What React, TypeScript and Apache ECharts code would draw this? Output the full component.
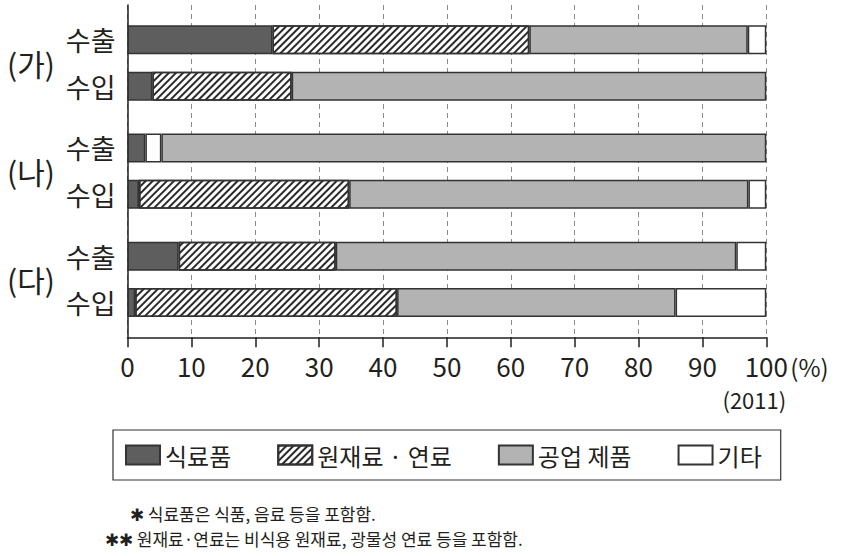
import React, { useEffect, useRef } from 'react';
import * as echarts from 'echarts';

// ---- data (2011, %) ----
const groupLabels = ['(가)', '(나)', '(다)'];
const rowLabels = ['수출', '수입', '수출', '수입', '수출', '수입'];
const seriesNames = ['식료품', '원재료 · 연료', '공업 제품', '기타'];
const foodValues = [22.7, 3.9, 2.8, 1.8, 8.0, 1.2];
const rawFuelValues = [40.2, 21.8, 2.5, 32.9, 24.6, 41.0];
const industrialValues = [34.2, 74.3, 94.7, 62.5, 62.7, 43.6];
const otherValues = [2.9, 0, 0, 2.8, 4.7, 14.2];
const xTicks = [0, 10, 20, 30, 40, 50, 60, 70, 80, 90, 100];
const footnotes = [
  '✱ 식료품은 식품, 음료 등을 포함함.',
  '✱✱ 원재료·연료는 비식용 원재료, 광물성 연료 등을 포함함.',
];

// ---- layout (not data) ----
const SLOT_COUNT = 43;
const ROW_SLOTS = [4, 10, 18, 24, 32, 38];
const UNHATCHED_RAW_ROWS = [2];

const FONT = '"Noto Sans CJK KR", "Noto Sans", sans-serif';
const INK = '#231f20';

export default function App() {
  const ref = useRef<HTMLDivElement>(null);

  useEffect(() => {
    document.body.style.margin = '0';
    const chart = echarts.init(ref.current!, null, { renderer: 'svg' });

    const slots = Array.from({ length: SLOT_COUNT }, (_, i) => 's' + i);
    const labelBySlot: Record<string, string> = {};
    ROW_SLOTS.forEach((s, i) => (labelBySlot['s' + s] = rowLabels[i]));

    const toSlotData = (vals: number[], override?: (row: number, v: number) => any) =>
      slots.map((_, i) => {
        const r = ROW_SLOTS.indexOf(i);
        if (r < 0) return '-';
        const v = vals[r];
        if (!v) return '-';
        return override ? override(r, v) : v;
      });

    const border = { borderColor: '#333333', borderWidth: 1.5 };
    const hatch = {
      symbol: 'rect',
      symbolSize: 1,
      color: '#2a2a2a',
      dashArrayX: [1, 0],
      dashArrayY: [1.2, 2.6],
      rotation: -Math.PI / 4,
    };

    const base = { type: 'bar', stack: 'total', barWidth: 29 };

    chart.setOption({
      animation: false,
      textStyle: { fontFamily: FONT, color: INK },
      grid: { left: 127.5, top: 5, width: 638.8, height: 332.3, outerBoundsMode: 'none' },
      legend: {
        left: 113,
        top: 430,
        orient: 'horizontal',
        icon: 'rect',
        itemWidth: 34,
        itemHeight: 19,
        itemGap: 46,
        padding: [13, 19, 13, 12],
        borderColor: '#333',
        borderWidth: 1.2,
        selectedMode: false,
        textStyle: { fontSize: 24, color: INK, fontFamily: FONT },
        data: seriesNames,
      },
      xAxis: {
        type: 'value',
        min: xTicks[0],
        max: xTicks[xTicks.length - 1],
        interval: xTicks[1] - xTicks[0],
        axisLine: { show: true, lineStyle: { color: INK, width: 1.5 } },
        axisTick: { show: true, length: 10, lineStyle: { color: INK, width: 1.5 } },
        axisLabel: { fontSize: 26, color: INK, margin: 15, fontFamily: FONT },
        splitLine: { show: true, lineStyle: { type: [5, 4], color: '#8a8a8a', width: 1 } },
      },
      yAxis: {
        type: 'category',
        inverse: true,
        data: slots,
        axisLine: { show: true, lineStyle: { color: INK, width: 1.5 } },
        axisTick: { show: false },
        axisLabel: {
          interval: 0,
          fontSize: 27,
          color: INK,
          margin: 12,
          fontFamily: FONT,
          formatter: (v: string) => labelBySlot[v] || '',
        },
        splitLine: { show: false },
      },
      series: [
        {
          ...base,
          name: seriesNames[0],
          itemStyle: { color: '#5e5e5e', ...border },
          data: toSlotData(foodValues),
        },
        {
          ...base,
          name: seriesNames[1],
          itemStyle: { color: '#ffffff', ...border, decal: hatch },
          data: toSlotData(rawFuelValues, (r, v) =>
            UNHATCHED_RAW_ROWS.includes(r)
              ? { value: v, itemStyle: { color: '#ffffff', decal: 'none' } }
              : v
          ),
        },
        {
          ...base,
          name: seriesNames[2],
          itemStyle: { color: '#b3b3b3', ...border },
          data: toSlotData(industrialValues),
        },
        {
          ...base,
          name: seriesNames[3],
          itemStyle: { color: '#ffffff', ...border },
          data: toSlotData(otherValues),
        },
      ],
    });

    // group labels & extra texts positioned via the axes
    const graphics: any[] = [];
    groupLabels.forEach((g, gi) => {
      const y1 = chart.convertToPixel({ yAxisIndex: 0 }, 's' + ROW_SLOTS[gi * 2]) as number;
      const y2 = chart.convertToPixel({ yAxisIndex: 0 }, 's' + ROW_SLOTS[gi * 2 + 1]) as number;
      graphics.push({
        type: 'text',
        x: 7,
        y: (y1 + y2) / 2,
        style: { text: g, fontSize: 30, fontFamily: FONT, fill: INK, textAlign: 'left', verticalAlign: 'middle' },
      });
    });
    const x100 = chart.convertToPixel({ xAxisIndex: 0 }, 100) as number;
    graphics.push({
      type: 'text',
      x: x100 + 24,
      y: 366,
      style: { text: '(%)', fontSize: 24, fontFamily: FONT, fill: INK, textAlign: 'left', verticalAlign: 'middle' },
    });
    graphics.push({
      type: 'text',
      x: x100 - 12,
      y: 399,
      style: { text: '(2011)', fontSize: 22, fontFamily: FONT, fill: INK, textAlign: 'center', verticalAlign: 'middle' },
    });
    graphics.push({
      type: 'text',
      x: 130,
      y: 513,
      style: { text: footnotes[0], fontSize: 17, fontFamily: FONT, fill: INK, textAlign: 'left', verticalAlign: 'middle' },
    });
    graphics.push({
      type: 'text',
      x: 105,
      y: 538,
      style: { text: footnotes[1], fontSize: 17, fontFamily: FONT, fill: INK, textAlign: 'left', verticalAlign: 'middle' },
    });
    chart.setOption({ graphic: graphics });

    return () => chart.dispose();
  }, []);

  return <div ref={ref} style={{ width: 848, height: 556 }} />;
}
